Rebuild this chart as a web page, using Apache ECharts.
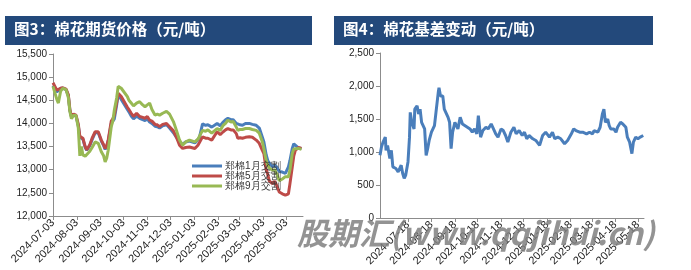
<!DOCTYPE html>
<html>
<head>
<meta charset="utf-8">
<script src="https://cdn.jsdelivr.net/npm/echarts@6/dist/echarts.min.js"></script>
<style>
html,body{margin:0;padding:0;background:#fff;}
#c{width:691px;height:270px;}
</style>
</head>
<body>
<div id="c"></div>
<script>
// ---------- Data: 图3 棉花期货价格 ----------
const priceDates = ['2024-07-03','2024-07-08','2024-07-10','2024-07-13','2024-07-16','2024-07-20','2024-07-23','2024-07-25','2024-07-27','2024-07-30',
'2024-08-02','2024-08-05','2024-08-07','2024-08-09','2024-08-11','2024-08-14','2024-08-16','2024-08-20','2024-08-23','2024-08-27',
'2024-08-31','2024-09-04','2024-09-07','2024-09-09','2024-09-11','2024-09-13','2024-09-17','2024-09-19','2024-09-21','2024-09-24',
'2024-09-26','2024-09-30','2024-10-08','2024-10-10','2024-10-13','2024-10-16','2024-10-20','2024-10-24','2024-10-28','2024-10-31',
'2024-11-03','2024-11-06','2024-11-09','2024-11-13','2024-11-16','2024-11-19','2024-11-23','2024-11-28','2024-12-02','2024-12-07',
'2024-12-11','2024-12-15','2024-12-19','2024-12-23','2024-12-28','2025-01-04','2025-01-08','2025-01-10','2025-01-14','2025-01-18',
'2025-01-21','2025-01-26','2025-02-02','2025-02-06','2025-02-10','2025-02-13','2025-02-16','2025-02-20','2025-02-23','2025-02-27',
'2025-03-01','2025-03-04','2025-03-07','2025-03-11','2025-03-16','2025-03-20','2025-03-25','2025-03-29','2025-04-02','2025-04-04',
'2025-04-07','2025-04-09','2025-04-11','2025-04-15','2025-04-18','2025-04-21','2025-04-24','2025-04-28','2025-05-02','2025-05-06',
'2025-05-08','2025-05-11','2025-05-13','2025-05-15','2025-05-19','2025-05-21','2025-05-23'];
const cf01 = [14820,14680,14700,14760,14760,14730,14600,14280,14140,14180,
14160,13950,13700,13700,13660,13480,13420,13520,13650,13800,
13800,13620,13520,13440,13500,13620,14000,14050,14100,14400,
14620,14520,14300,14250,14160,14100,14160,14110,14080,14060,
14100,14030,14000,13940,13930,13900,13950,13970,13900,13800,
13700,13580,13550,13600,13620,13580,13650,13700,13990,13960,
13970,13920,14000,13950,14030,14080,14110,14080,14080,14000,
13960,13970,13960,14000,14000,13980,13960,13900,13700,13600,
13320,13200,13150,13060,13100,13050,12960,12950,12920,13060,
13200,13460,13560,13530,13470,13440,13460];
const cf05 = [14880,14720,14700,14760,14770,14740,14620,14300,14160,14200,
14180,13980,13720,13710,13680,13500,13430,13540,13680,13820,
13820,13640,13540,13460,13520,13640,14050,14100,14180,14450,
14650,14580,14350,14300,14220,14150,14220,14150,14130,14110,
14150,14070,14050,13980,13970,13930,13980,14000,13930,13840,
13700,13530,13460,13480,13490,13460,13530,13530,13710,13680,
13680,13640,13820,13760,13820,13860,13890,13860,13860,13780,
13680,13690,13680,13700,13710,13700,13640,13570,13420,13350,
13000,12900,12760,12700,12750,12650,12520,12480,12450,12480,
12700,13060,13300,13420,13480,13470,13460];
const cf09 = [14800,14520,14440,14700,14760,14730,14560,14260,14100,14180,
14170,13900,13300,13500,13320,13290,13280,13400,13480,13600,
13570,13390,13300,13170,13250,13420,13930,14050,14290,14550,
14800,14760,14580,14500,14440,14380,14440,14470,14400,14360,
14400,14440,14300,14180,14200,14180,14220,14260,14200,14040,
13850,13640,13530,13600,13640,13600,13660,13670,13850,13830,
13860,13790,13890,13850,13960,14000,14070,14030,14040,13920,
13850,13870,13870,13890,13890,13870,13850,13790,13600,13450,
13200,13100,13040,12990,13000,12900,12760,12800,12850,12850,
13000,13350,13450,13470,13460,13440,13440];
const priceNames = ['郑棉1月交割','郑棉5月交割','郑棉9月交割'];
const priceTickLabels = ['2024-07-03','2024-08-03','2024-09-03','2024-10-03','2024-11-03','2024-12-03','2025-01-03','2025-02-03','2025-03-03','2025-04-03','2025-05-03'];
const priceAxisStart = '2024-07-03', priceAxisEnd = '2025-05-25';

// ---------- Data: 图4 棉花基差变动 ----------
const basisDates = ['2024-06-11','2024-06-13','2024-06-15','2024-06-18','2024-06-19','2024-06-21','2024-06-24','2024-06-26','2024-06-28','2024-07-02',
'2024-07-05','2024-07-07','2024-07-09','2024-07-11','2024-07-13','2024-07-15','2024-07-18','2024-07-20','2024-07-21','2024-07-23',
'2024-07-26','2024-07-27','2024-07-30','2024-08-01','2024-08-03','2024-08-05','2024-08-09','2024-08-11','2024-08-13','2024-08-15',
'2024-08-18','2024-08-22','2024-08-24','2024-08-27','2024-08-28','2024-08-30','2024-09-02','2024-09-04','2024-09-06','2024-09-09',
'2024-09-11','2024-09-13','2024-09-15','2024-09-18','2024-09-22','2024-09-25','2024-09-28','2024-09-30','2024-10-08','2024-10-09',
'2024-10-11','2024-10-14','2024-10-17','2024-10-19','2024-10-22','2024-10-25','2024-10-29','2024-11-01','2024-11-05','2024-11-08',
'2024-11-11','2024-11-14','2024-11-18','2024-11-21','2024-11-24','2024-11-27','2024-12-01','2024-12-05','2024-12-08','2024-12-12',
'2024-12-16','2024-12-19','2024-12-22','2024-12-25','2024-12-30','2025-01-03','2025-01-08','2025-01-12','2025-01-16','2025-01-21',
'2025-01-25','2025-01-28','2025-02-01','2025-02-05','2025-02-10','2025-02-14','2025-02-19','2025-02-22','2025-02-25','2025-03-02',
'2025-03-06','2025-03-11','2025-03-13','2025-03-15','2025-03-19','2025-03-21','2025-03-26','2025-03-29','2025-04-01','2025-04-03',
'2025-04-05','2025-04-08','2025-04-10','2025-04-12','2025-04-16','2025-04-19','2025-04-21','2025-04-25','2025-04-28','2025-05-02',
'2025-05-04','2025-05-07','2025-05-10','2025-05-12','2025-05-15','2025-05-18','2025-05-21','2025-05-25'];
const basis = [950,1080,1150,1225,1025,1100,900,1025,775,750,
700,725,800,675,600,650,850,1225,1600,1450,
1350,1650,1700,1575,1650,1450,1350,950,1050,1175,
1300,1400,1600,1900,1975,1850,1850,1650,1675,1525,
1450,1050,1300,1450,1350,1525,1425,1450,1350,1375,
1300,1350,1275,1550,1225,1325,1375,1350,1425,1350,
1275,1225,1350,1325,1250,1150,1300,1375,1275,1325,
1250,1300,1200,1250,1200,1175,1100,1250,1300,1225,
1300,1200,1225,1200,1125,1175,1275,1350,1325,1300,
1300,1275,1250,1300,1275,1325,1300,1375,1575,1650,
1450,1500,1400,1350,1350,1300,1375,1450,1425,1375,
1225,1150,975,1150,1225,1200,1225,1250];
const basisTickLabels = ['2024-07-18','2024-08-18','2024-09-18','2024-10-18','2024-11-18','2024-12-18','2025-01-18','2025-02-18','2025-03-18','2025-04-18','2025-05-18'];
const basisAxisStart = '2024-06-11', basisAxisEnd = '2025-05-26';

// ---------- helpers ----------
function dayList(a, b) {
  const out = [];
  const d = new Date(a + 'T00:00:00Z'), e = new Date(b + 'T00:00:00Z');
  while (d <= e) { out.push(d.toISOString().slice(0, 10)); d.setUTCDate(d.getUTCDate() + 1); }
  return out;
}
const pair = (dates, vals) => dates.map((d, i) => [d, vals[i]]);
const fmt = v => v.toLocaleString('en-US');
const FONT = 'Liberation Sans';
const axisGray = '#8c8c8c';

const priceCats = dayList(priceAxisStart, priceAxisEnd);
const basisCats = dayList(basisAxisStart, basisAxisEnd);
const priceTickSet = new Set(priceTickLabels);
const basisTickSet = new Set(basisTickLabels);

function xAxisCfg(idx, cats, tickSet) {
  return {
    type: 'category', gridIndex: idx, data: cats, boundaryGap: false,
    axisLine: { lineStyle: { color: axisGray, width: 1 } },
    axisTick: { show: true, length: 4, inside: false, alignWithLabel: true, interval: (i, v) => tickSet.has(v), lineStyle: { color: axisGray } },
    axisLabel: { interval: (i, v) => tickSet.has(v), rotate: 45, fontSize: 11, fontFamily: FONT, color: '#222', margin: 5 },
    splitLine: { show: false }
  };
}
function yAxisCfg(idx, min, max) {
  return {
    type: 'value', gridIndex: idx, min: min, max: max, interval: 500,
    axisLine: { show: true, lineStyle: { color: axisGray, width: 1 } },
    axisTick: { show: true, length: 4, lineStyle: { color: axisGray } },
    axisLabel: { formatter: fmt, fontSize: 10, fontFamily: FONT, color: '#222', margin: 6 },
    splitLine: { show: false }
  };
}

const colors = ['#4a7ebb', '#be4b48', '#98b954'];
const chart = echarts.init(document.getElementById('c'), null, { renderer: 'canvas' });
chart.setOption({
  animation: false,
  backgroundColor: '#ffffff',
  grid: [
    { left: 53, right: 388, top: 54, bottom: 54 },
    { left: 380, right: 47, top: 53, bottom: 52 }
  ],
  xAxis: [xAxisCfg(0, priceCats, priceTickSet), xAxisCfg(1, basisCats, basisTickSet)],
  yAxis: [yAxisCfg(0, 12000, 15500), yAxisCfg(1, 0, 2500)],
  legend: {
    data: priceNames, orient: 'vertical', left: 187, top: 156, itemGap: 0,
    icon: 'rect', itemWidth: 30, itemHeight: 3,
    textStyle: { fontSize: 10, fontFamily: FONT, color: '#333', lineHeight: 10, padding: [0, 0, 0, -2] }
  },
  series: [
    { name: priceNames[0], type: 'line', xAxisIndex: 0, yAxisIndex: 0, data: pair(priceDates, cf01), showSymbol: false, symbol: 'none', lineStyle: { width: 3, color: colors[0] }, itemStyle: { color: colors[0] } },
    { name: priceNames[1], type: 'line', xAxisIndex: 0, yAxisIndex: 0, data: pair(priceDates, cf05), showSymbol: false, symbol: 'none', lineStyle: { width: 3, color: colors[1] }, itemStyle: { color: colors[1] } },
    { name: priceNames[2], type: 'line', xAxisIndex: 0, yAxisIndex: 0, data: pair(priceDates, cf09), showSymbol: false, symbol: 'none', lineStyle: { width: 3, color: colors[2] }, itemStyle: { color: colors[2] } },
    { name: '基差', type: 'line', xAxisIndex: 1, yAxisIndex: 1, data: pair(basisDates, basis), showSymbol: false, symbol: 'none', lineStyle: { width: 3, color: colors[0] }, itemStyle: { color: colors[0] } }
  ],
  graphic: [
    { type: 'rect', left: 5, top: 16, shape: { width: 307, height: 29 }, style: { fill: '#23497b' }, z: 10 },
    { type: 'rect', left: 334, top: 16, shape: { width: 319, height: 29 }, style: { fill: '#23497b' }, z: 10 },
    { type: 'text', left: 14, top: 21, style: { text: '图3：棉花期货价格（元/吨）', fill: '#ffffff', font: 'bold 15.5px "Noto Sans CJK SC"' }, z: 11 },
    { type: 'text', left: 343, top: 21, style: { text: '图4：棉花基差变动（元/吨）', fill: '#ffffff', font: 'bold 15.5px "Noto Sans CJK SC"' }, z: 11 },
    { type: 'text', left: 297, top: 218, style: { text: '股期汇(www.qqjihui.cn)', fill: 'rgba(128,128,128,0.85)', font: 'italic bold 31px "Noto Sans CJK SC"' }, z: 20 }
  ]
});
</script>
</body>
</html>
